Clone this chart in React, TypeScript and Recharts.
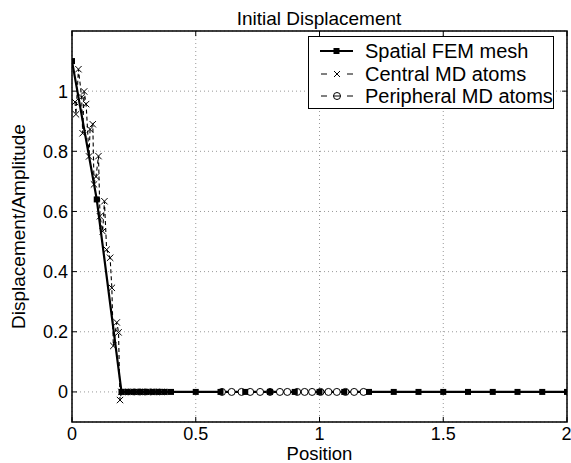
import React from "react";
import {
  LineChart,
  Line,
  XAxis,
  YAxis,
  CartesianGrid,
  ReferenceArea,
  ReferenceLine,
} from "recharts";

const xTicks = [0, 0.5, 1, 1.5, 2];
const yTicks = [0, 0.2, 0.4, 0.6, 0.8, 1];

// FEM mesh nodes
const femX = [
  0, 0.1, 0.2, 0.225, 0.25, 0.275, 0.3, 0.325, 0.35, 0.375, 0.4, 0.5, 0.6, 0.7,
  0.8, 0.9, 1.0, 1.1, 1.2, 1.3, 1.4, 1.5, 1.6, 1.7, 1.8, 1.9, 2.0,
];
const femY = [
  1.1, 0.64, 0, 0, 0, 0, 0, 0, 0, 0, 0, 0, 0, 0, 0, 0, 0, 0, 0, 0, 0, 0, 0, 0,
  0, 0, 0,
];

// central MD atoms
const centralX = [
  0.012, 0.016, 0.026, 0.039, 0.043, 0.049, 0.057, 0.069, 0.073, 0.084, 0.089,
  0.097, 0.107, 0.113, 0.124, 0.131, 0.14, 0.154, 0.161, 0.167, 0.181, 0.188,
  0.194, 0.2, 0.21, 0.22, 0.23, 0.24, 0.25, 0.26, 0.27, 0.28, 0.29, 0.3, 0.31,
  0.32, 0.33, 0.34, 0.35, 0.36, 0.37,
];
const centralY = [
  0.964, 0.923, 1.073, 0.98, 0.86, 0.999, 0.957, 0.783, 0.873, 0.89, 0.69,
  0.716, 0.784, 0.584, 0.534, 0.634, 0.473, 0.446, 0.346, 0.153, 0.231, 0.198,
  -0.027, 0, 0, 0, 0, 0, 0, 0, 0, 0, 0, 0, 0, 0, 0, 0, 0, 0, 0,
];

// peripheral MD atoms
const periX = [
  0.606, 0.645, 0.685, 0.72, 0.76, 0.8, 0.84, 0.87, 0.91, 0.94, 0.97, 1.004,
  1.036, 1.07, 1.105, 1.14, 1.178,
];
const periY = [0, 0, 0, 0, 0, 0, 0, 0, 0, 0, 0, 0, 0, 0, 0, 0, 0];

const zip = (xs: number[], ys: number[]) => xs.map((x, i) => ({ x, y: ys[i] }));
const femData = zip(femX, femY);
const centralData = zip(centralX, centralY);
const periData = zip(periX, periY);

const FONT = "'Liberation Sans', Arial, Helvetica, sans-serif";

const Square = (p: any) => {
  if (p.cx == null || p.cy == null) return <g key={`s-${p.index}`} />;
  return (
    <rect
      key={`s-${p.index}`}
      x={p.cx - 3}
      y={p.cy - 3}
      width={6}
      height={6}
      fill="#000"
    />
  );
};

const Cross = (p: any) => {
  if (p.cx == null || p.cy == null) return <g key={`c-${p.index}`} />;
  const s = 3.2;
  const { cx, cy } = p;
  return (
    <path
      key={`c-${p.index}`}
      d={`M${cx - s},${cy - s}L${cx + s},${cy + s}M${cx - s},${cy + s}L${cx + s},${cy - s}`}
      stroke="#000"
      strokeWidth={1}
      fill="none"
    />
  );
};

const Legend = () => (
  <svg
    width={571}
    height={463}
    style={{ position: "absolute", left: 0, top: 0, pointerEvents: "none" }}
    fontFamily={FONT}
  >
    <text x={319} y={25} textAnchor="middle" fontSize={19} fill="#000">
      Initial Displacement
    </text>
    <rect x={308.5} y={36.5} width={245} height={72} fill="#fff" stroke="#000" strokeWidth={1} />
    <line x1={320} x2={353} y1={51} y2={51} stroke="#000" strokeWidth={2.2} />
    <rect x={333.5} y={48} width={6} height={6} fill="#000" />
    <text x={365} y={58} fontSize={20} fill="#000">Spatial FEM mesh</text>
    <path d="M321,74H327M347,74H353" stroke="#000" strokeWidth={1} />
    <path d="M334,71L340,77M334,77L340,71" stroke="#000" strokeWidth={1} />
    <text x={365} y={81} fontSize={20} fill="#000">Central MD atoms</text>
    <path d="M321,96H327M347,96H353" stroke="#000" strokeWidth={1} />
    <circle cx={337} cy={96} r={3.5} fill="#fff" stroke="#000" strokeWidth={1} />
    <line x1={333.5} x2={340.5} y1={96} y2={96} stroke="#000" strokeWidth={1} />
    <text x={365} y={103} fontSize={20} fill="#000">Peripheral MD atoms</text>
  </svg>
);

const App = () => {
  return (
    <div style={{ position: "absolute", left: 0, top: 0, width: 571, height: 463, background: "#fff" }}>
      <LineChart
        width={571}
        height={463}
        margin={{ top: 31, right: 4, bottom: 0, left: 0 }}
        style={{ fontFamily: FONT }}
      >
        <CartesianGrid stroke="#999" strokeDasharray="1 3" />
        <XAxis
          type="number"
          dataKey="x"
          domain={[0, 2]}
          ticks={xTicks}
          allowDataOverflow
          axisLine={false}
          tickLine={false}
          tickSize={0}
          tickMargin={5}
          height={41}
          tick={{ fill: "#000", fontSize: 18 }}
          label={{
            content: ({ viewBox }: any) => (
              <text
                x={viewBox.x + viewBox.width / 2}
                y={460}
                textAnchor="middle"
                fontSize={18.5}
                fill="#000"
              >
                Position
              </text>
            ),
          }}
        />
        <YAxis
          type="number"
          dataKey="y"
          domain={[-0.1, 1.2]}
          ticks={yTicks}
          allowDataOverflow
          axisLine={false}
          tickLine={false}
          tickSize={0}
          tickMargin={4}
          width={72}
          tick={{ fill: "#000", fontSize: 18 }}
          label={{
            content: ({ viewBox }: any) => {
              const cy = viewBox.y + viewBox.height / 2;
              return (
                <text
                  x={25}
                  y={cy}
                  transform={`rotate(-90, 25, ${cy})`}
                  textAnchor="middle"
                  fontSize={19}
                  fill="#000"
                >
                  Displacement/Amplitude
                </text>
              );
            },
          }}
        />
        {xTicks.map((t) => (
          <ReferenceLine key={`xb${t}`} segment={[{ x: t, y: -0.1 }, { x: t, y: -0.083 }]} stroke="#000" />
        ))}
        {xTicks.map((t) => (
          <ReferenceLine key={`xt${t}`} segment={[{ x: t, y: 1.2 }, { x: t, y: 1.183 }]} stroke="#000" />
        ))}
        {yTicks.map((t) => (
          <ReferenceLine key={`yl${t}`} segment={[{ x: 0, y: t }, { x: 0.02, y: t }]} stroke="#000" />
        ))}
        {yTicks.map((t) => (
          <ReferenceLine key={`yr${t}`} segment={[{ x: 2, y: t }, { x: 1.98, y: t }]} stroke="#000" />
        ))}
        <Line
          data={centralData}
          dataKey="y"
          type="linear"
          stroke="#000"
          strokeWidth={1.1}
          strokeDasharray="4 3"
          dot={(p: any) => <Cross {...p} key={`c-${p.index}`} />}
          activeDot={false}
          isAnimationActive={false}
        />
        <Line
          data={periData}
          dataKey="y"
          type="linear"
          stroke="#000"
          strokeWidth={1}
          strokeDasharray="4 3"
          dot={{ r: 3.5, fill: "#fff", stroke: "#000", strokeWidth: 1, strokeDasharray: "" }}
          activeDot={false}
          isAnimationActive={false}
        />
        <Line
          data={femData}
          dataKey="y"
          type="linear"
          stroke="#000"
          strokeWidth={2.2}
          dot={(p: any) => <Square {...p} key={`s-${p.index}`} />}
          activeDot={false}
          isAnimationActive={false}
        />
        <ReferenceArea x1={0} x2={2} y1={-0.1} y2={1.2} fill="none" stroke="#000" strokeWidth={1.5} />
      </LineChart>
      <Legend />
    </div>
  );
};

export default App;
